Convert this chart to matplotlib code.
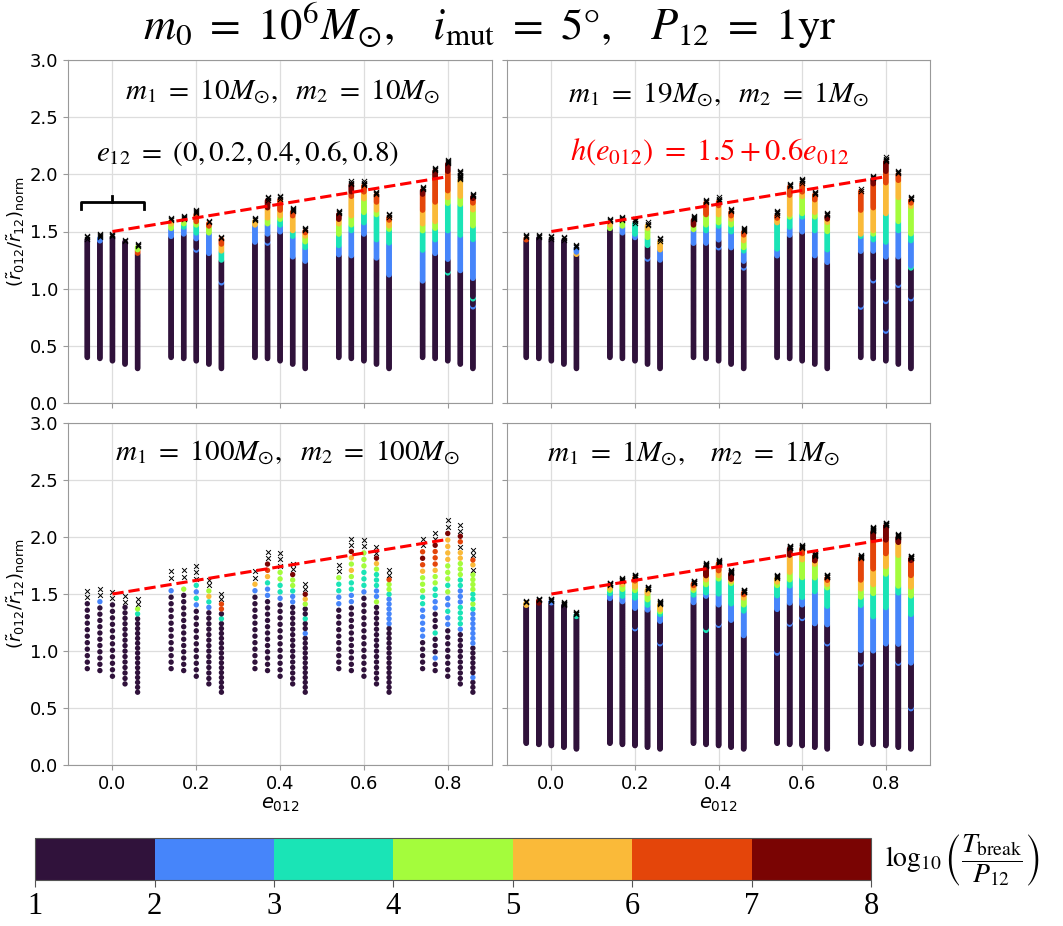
import numpy as np
import matplotlib.pyplot as plt
from matplotlib.colors import BoundaryNorm
from matplotlib.cm import ScalarMappable

E012 = [0.0, 0.2, 0.4, 0.6, 0.8]
E12_SHIFT = [-0.06, -0.03, 0.0, 0.03, 0.06]   # x offset for e12 = 0, 0.2, 0.4, 0.6, 0.8

# --- m1 = m2 = 100 Msun: coarse grid, read dot by dot ---
# (number of dark dots, codes above them); '1'..'7' = log10(T/P12) bin, 'x' = broken, '.' = none
M100_BOTTOM = [0.845, 0.828, 0.778, 0.711, 0.638]
M100_STEP = [0.057, 0.055, 0.057, 0.048, 0.043]
M100_COLS = [
    (11, "xx"), (11, "2xx"), (12, "xx"), (15, "xx"), (16, "34xx"),
    (12, "2.xx"), (13, "4.xx"), (11, "2323xxx"), (14, "2354xx"), (15, "3166xx"),
    (12, "25xx"), (12, "223567xx"), (12, "23344xxx"), (15, "223447xx"), (12, "211311457xx"),
    (10, "22334xx"), (11, "223345457xx"), (13, "2333444xx"), (15, "422333457xx"), (14, "2222223446xx"),
    (5, "22222334445676xx"), (2, "2111311122334456667xx"), (8, "223224344455557xx"),
    (10, "233332223344455x67xx"), (3, "2111111222222234334444x56xx"),
]

# --- fine grids: runs of (level, upper edge) from the bottom, level 0 = broken ('x') ---
M10_BOTTOM = [0.398, 0.389, 0.368, 0.339, 0.301]
M10_RUNS = [
    [(1, 1.43), (0, 1.46)],
    [(1, 1.41), (2, 1.44), (0, 1.48)],
    [(1, 1.45), (0, 1.48)],
    [(1, 1.41), (0, 1.43)],
    [(1, 1.31), (6, 1.34), (4, 1.37), (0, 1.40)],
    [(1, 1.45), (2, 1.52), (4, 1.56), (5, 1.59), (0, 1.62)],
    [(1, 1.47), (2, 1.53), (3, 1.56), (4, 1.60), (0, 1.64)],
    [(1, 1.33), (2, 1.35), (1, 1.43), (2, 1.48), (3, 1.55), (4, 1.58), (6, 1.65), (0, 1.69)],
    [(1, 1.30), (2, 1.48), (4, 1.54), (6, 1.57), (0, 1.59)],
    [(1, 1.05), (2, 1.07), (1, 1.25), (3, 1.33), (5, 1.39), (6, 1.44), (0, 1.46)],
    [(1, 1.40), (2, 1.55), (5, 1.59), (0, 1.62)],
    [(1, 1.39), (2, 1.41), (1, 1.47), (2, 1.56), (4, 1.61), (5, 1.70), (7, 1.77), (0, 1.80)],
    [(1, 1.49), (2, 1.55), (3, 1.60), (4, 1.63), (5, 1.68), (6, 1.78), (0, 1.81)],
    [(1, 1.27), (2, 1.45), (3, 1.50), (5, 1.63), (6, 1.67), (0, 1.71)],
    [(1, 1.24), (2, 1.36), (3, 1.41), (4, 1.46), (5, 1.49), (6, 1.51), (0, 1.54)],
    [(1, 1.29), (2, 1.37), (3, 1.47), (4, 1.56), (5, 1.60), (7, 1.65), (0, 1.68)],
    [(1, 1.28), (2, 1.50), (3, 1.55), (4, 1.63), (5, 1.80), (6, 1.84), (7, 1.91), (0, 1.94)],
    [(1, 1.47), (2, 1.57), (3, 1.66), (4, 1.78), (5, 1.84), (6, 1.90), (0, 1.94)],
    [(1, 1.26), (2, 1.42), (3, 1.64), (4, 1.68), (5, 1.75), (6, 1.82), (0, 1.85)],
    [(1, 1.12), (2, 1.40), (3, 1.52), (4, 1.55), (5, 1.60), (6, 1.63), (0, 1.66)],
    [(1, 1.06), (2, 1.33), (3, 1.50), (4, 1.56), (5, 1.68), (6, 1.82), (7, 1.86), (0, 1.89)],
    [(1, 1.30), (2, 1.42), (3, 1.52), (4, 1.58), (5, 1.75), (6, 1.97), (7, 2.03), (0, 2.06)],
    [(1, 1.13), (3, 1.15), (1, 1.25), (2, 1.50), (3, 1.74), (4, 1.79), (5, 1.85), (6, 2.02), (7, 2.09), (0, 2.13)],
    [(1, 1.15), (2, 1.46), (3, 1.73), (4, 1.80), (5, 1.95), (0, 2.03)],
    [(1, 0.84), (2, 0.86), (1, 0.91), (3, 0.93), (1, 1.09), (2, 1.43), (3, 1.55), (4, 1.69), (5, 1.75), (6, 1.79), (7, 1.81), (0, 1.84)],
]

M19_BOTTOM = [0.398, 0.389, 0.368, 0.339, 0.301]
M19_RUNS = [
    [(1, 1.42), (6, 1.44), (0, 1.47)],
    [(1, 1.44), (0, 1.47)],
    [(1, 1.43), (0, 1.46)],
    [(1, 1.42), (0, 1.45)],
    [(1, 1.30), (5, 1.32), (2, 1.36), (0, 1.39)],
    [(1, 1.52), (4, 1.55), (5, 1.58), (0, 1.61)],
    [(1, 1.48), (2, 1.54), (4, 1.59), (0, 1.63)],
    [(1, 1.44), (2, 1.47), (3, 1.57), (0, 1.61)],
    [(1, 1.25), (2, 1.27), (1, 1.37), (3, 1.44), (4, 1.52), (5, 1.55), (0, 1.58)],
    [(1, 1.25), (2, 1.34), (5, 1.42), (0, 1.45)],
    [(1, 1.39), (2, 1.51), (4, 1.55), (7, 1.60), (0, 1.64)],
    [(1, 1.39), (2, 1.50), (3, 1.55), (4, 1.64), (6, 1.75), (0, 1.78)],
    [(1, 1.35), (2, 1.37), (1, 1.42), (2, 1.54), (3, 1.57), (4, 1.64), (5, 1.72), (6, 1.76), (0, 1.80)],
    [(1, 1.35), (2, 1.49), (3, 1.55), (4, 1.60), (5, 1.63), (6, 1.67), (0, 1.70)],
    [(1, 1.18), (2, 1.20), (1, 1.24), (2, 1.33), (3, 1.36), (4, 1.42), (5, 1.47), (6, 1.50), (0, 1.535)],
    [(1, 1.28), (2, 1.34), (3, 1.57), (5, 1.61), (6, 1.64), (0, 1.68)],
    [(1, 1.46), (2, 1.53), (3, 1.62), (4, 1.64), (5, 1.81), (6, 1.89), (0, 1.92)],
    [(1, 1.49), (2, 1.62), (3, 1.65), (4, 1.80), (5, 1.84), (6, 1.92), (0, 1.96)],
    [(1, 1.28), (2, 1.50), (3, 1.62), (4, 1.66), (5, 1.77), (6, 1.82), (0, 1.85)],
    [(1, 1.23), (2, 1.34), (3, 1.50), (4, 1.58), (5, 1.61), (7, 1.64), (0, 1.67)],
    [(1, 0.83), (2, 0.85), (1, 1.32), (2, 1.45), (3, 1.47), (5, 1.68), (6, 1.85), (0, 1.87)],
    [(1, 1.06), (2, 1.08), (1, 1.32), (2, 1.42), (3, 1.47), (4, 1.50), (5, 1.70), (6, 1.91), (7, 1.96), (0, 1.99)],
    [(1, 0.62), (2, 0.64), (1, 0.88), (2, 0.90), (1, 1.27), (2, 1.40), (3, 1.65), (5, 1.92), (6, 2.02), (7, 2.11), (0, 2.15)],
    [(1, 1.02), (2, 1.04), (1, 1.27), (2, 1.50), (3, 1.58), (4, 1.79), (5, 1.94), (6, 2.00), (0, 2.03)],
    [(1, 0.91), (2, 0.93), (1, 1.18), (3, 1.20), (2, 1.42), (3, 1.48), (4, 1.72), (5, 1.75), (6, 1.78), (0, 1.81)],
]

M1_BOTTOM = [0.19, 0.18, 0.17, 0.155, 0.14]
M1_RUNS = [
    [(1, 1.40), (5, 1.42), (0, 1.44)],
    [(1, 1.42), (7, 1.44), (0, 1.46)],
    [(1, 1.42), (2, 1.44), (0, 1.46)],
    [(1, 1.40), (0, 1.43)],
    [(1, 1.30), (3, 1.32), (0, 1.34)],
    [(1, 1.46), (2, 1.50), (3, 1.53), (4, 1.55), (5, 1.58), (0, 1.60)],
    [(1, 1.43), (2, 1.48), (3, 1.54), (4, 1.58), (5, 1.61), (0, 1.64)],
    [(1, 1.19), (2, 1.21), (1, 1.37), (2, 1.46), (3, 1.53), (4, 1.56), (5, 1.61), (6, 1.64), (0, 1.67)],
    [(1, 1.36), (2, 1.40), (3, 1.45), (4, 1.50), (5, 1.54), (0, 1.57)],
    [(1, 1.06), (2, 1.08), (1, 1.26), (2, 1.32), (3, 1.34), (4, 1.36), (5, 1.41), (0, 1.44)],
    [(1, 1.42), (2, 1.49), (3, 1.53), (4, 1.55), (5, 1.57), (6, 1.59), (0, 1.62)],
    [(1, 1.18), (3, 1.20), (1, 1.48), (2, 1.51), (3, 1.58), (4, 1.62), (5, 1.66), (7, 1.74), (0, 1.77)],
    [(1, 1.22), (2, 1.24), (1, 1.40), (2, 1.50), (3, 1.63), (4, 1.66), (5, 1.70), (6, 1.77), (0, 1.80)],
    [(1, 1.27), (2, 1.41), (3, 1.59), (4, 1.61), (5, 1.63), (7, 1.68), (0, 1.71)],
    [(1, 1.13), (2, 1.35), (3, 1.40), (4, 1.46), (5, 1.49), (6, 1.51), (0, 1.54)],
    [(1, 0.98), (2, 1.00), (1, 1.36), (2, 1.48), (3, 1.57), (4, 1.60), (5, 1.64), (0, 1.67)],
    [(1, 1.23), (2, 1.25), (1, 1.42), (2, 1.57), (3, 1.62), (4, 1.69), (5, 1.84), (7, 1.90), (0, 1.93)],
    [(1, 1.28), (2, 1.30), (1, 1.40), (2, 1.47), (3, 1.64), (4, 1.80), (5, 1.85), (6, 1.90), (0, 1.93)],
    [(1, 1.24), (2, 1.52), (3, 1.64), (4, 1.76), (5, 1.79), (7, 1.83), (0, 1.86)],
    [(1, 1.06), (2, 1.08), (1, 1.23), (2, 1.39), (3, 1.55), (4, 1.58), (5, 1.62), (6, 1.64), (0, 1.67)],
    [(1, 0.88), (2, 0.90), (1, 1.00), (2, 1.40), (3, 1.47), (4, 1.54), (5, 1.62), (6, 1.81), (0, 1.84)],
    [(1, 1.00), (2, 1.30), (3, 1.50), (4, 1.58), (5, 1.72), (6, 1.98), (7, 2.05), (0, 2.09)],
    [(1, 1.06), (2, 1.38), (3, 1.67), (4, 1.74), (5, 1.85), (6, 1.97), (7, 2.10), (0, 2.13)],
    [(1, 0.89), (2, 0.91), (1, 1.06), (2, 1.51), (3, 1.57), (4, 1.84), (5, 1.95), (7, 2.00), (0, 2.03)],
    [(1, 0.49), (2, 0.51), (1, 0.89), (2, 1.32), (3, 1.48), (4, 1.56), (5, 1.66), (6, 1.79), (7, 1.81), (0, 1.84)],
]

FINE_STEP = 0.010
FINEST_STEP = 0.006

PANEL_TITLES = [r"$m_1\ =\ 10M_{\odot},\ \ m_2\ =\ 10M_{\odot}$",
                r"$m_1\ =\ 19M_{\odot},\ \ m_2\ =\ 1M_{\odot}$",
                r"$m_1\ =\ 100M_{\odot},\ \ m_2\ =\ 100M_{\odot}$",
                r"$m_1\ =\ 1M_{\odot},\ \ \ m_2\ =\ 1M_{\odot}$"]

cmap = plt.get_cmap("turbo", 7)
norm = BoundaryNorm(np.arange(1, 9), cmap.N)


def sparse_points(bottoms, steps, cols):
    xs, ys, levs = [], [], []
    for i, (n_dark, tail) in enumerate(cols):
        g, j = divmod(i, 5)
        codes = "1" * n_dark + tail
        for k, ch in enumerate(codes):
            if ch == ".":
                continue
            xs.append(E012[g] + E12_SHIFT[j])
            ys.append(bottoms[j] + k * steps[j])
            levs.append(0 if ch == "x" else int(ch))
    return np.array(xs), np.array(ys), np.array(levs)


def dense_points(bottoms, step, runs_all):
    xs, ys, levs = [], [], []
    for i, runs in enumerate(runs_all):
        g, j = divmod(i, 5)
        tops = np.array([r[1] for r in runs])
        lv = np.array([r[0] for r in runs])
        y = np.arange(bottoms[j], tops[-1] + 1e-9, step)
        idx = np.minimum(np.searchsorted(tops, y - 1e-9), len(runs) - 1)
        xs.append(np.full(len(y), E012[g] + E12_SHIFT[j]))
        ys.append(y)
        levs.append(lv[idx])
    return np.concatenate(xs), np.concatenate(ys), np.concatenate(levs)


fig = plt.figure(figsize=(10.63, 9.26), dpi=100)
boxes = [[0.064, 0.565, 0.399, 0.370], [0.477, 0.565, 0.398, 0.370],
         [0.064, 0.174, 0.399, 0.369], [0.477, 0.174, 0.398, 0.369]]
data = [dense_points(M10_BOTTOM, FINE_STEP, M10_RUNS),
        dense_points(M19_BOTTOM, FINE_STEP, M19_RUNS),
        sparse_points(M100_BOTTOM, M100_STEP, M100_COLS),
        dense_points(M1_BOTTOM, FINEST_STEP, M1_RUNS)]
dot_size = [16, 16, 15, 16]
x_size = [14, 14, 12, 14]
title_pos = [(0.507, 0.907), (0.499, 0.90), (0.518, 0.914), (0.44, 0.91)]

axes = []
for n in range(4):
    ax = fig.add_axes(boxes[n])
    axes.append(ax)
    x, y, lev = data[n]
    dot = lev > 0
    ax.scatter(x[dot], y[dot], c=lev[dot], cmap=cmap, norm=norm, s=dot_size[n],
               edgecolors="none", zorder=2)
    ax.scatter(x[~dot], y[~dot], marker="x", color="black", s=x_size[n],
               linewidths=0.7, zorder=3)
    e_line = np.array([E012[0], E012[-1]])
    ax.plot(e_line, 1.5 + 0.6 * e_line, "--", color="red", lw=2.2, zorder=4)

    ax.set_ylim(0, 3.0)
    ax.set_xlim(-0.106, 0.906)
    ax.set_yticks(np.arange(0, 3.01, 0.5))
    ax.set_xticks(E012)
    ax.grid(True, color="#dddddd", lw=0.9)
    ax.set_axisbelow(True)
    for sp in ax.spines.values():
        sp.set_color("#999999")
    ax.tick_params(colors="#999999", labelcolor="black", labelsize=13)
    if n % 2 == 1:
        ax.tick_params(labelleft=False)
    else:
        ax.set_ylabel(r"$(\tilde{r}_{012}/\tilde{r}_{12})_{\rm norm}$", fontsize=13, labelpad=2)
    if n < 2:
        ax.tick_params(labelbottom=False)
    else:
        ax.set_xlabel(r"$e_{012}$", fontsize=14, labelpad=2)
    tx, ty = title_pos[n]
    ax.text(tx, ty, PANEL_TITLES[n], transform=ax.transAxes, ha="center", va="center",
            fontsize=21, math_fontfamily="stix")

# e12 bracket and annotations
ax = axes[0]
bl = E012[0] + E12_SHIFT[0] - 0.015
br = E012[0] + E12_SHIFT[-1] + 0.015
ax.plot([bl, bl, br, br], [1.70, 1.755, 1.755, 1.70], color="black", lw=2.0,
        solid_joinstyle="round")
ax.plot([E012[0], E012[0]], [1.755, 1.81], color="black", lw=2.0)
ax.text(0.423, 0.729, r"$e_{12}\ =\ (0, 0.2, 0.4, 0.6, 0.8)$", transform=ax.transAxes,
        ha="center", va="center", fontsize=21, math_fontfamily="stix")
axes[1].text(0.48, 0.732, r"$h(e_{012})\ =\ 1.5+0.6e_{012}$", transform=axes[1].transAxes,
             ha="center", va="center", fontsize=22, color="red", math_fontfamily="stix")

fig.text(0.461, 0.972, r"$m_0\ =\ 10^6M_{\odot},\quad i_{\rm mut}\ =\ 5°,\quad P_{12}\ =\ 1{\rm yr}$",
         ha="center", va="center", fontsize=32, math_fontfamily="stix")

# colorbar
cax = fig.add_axes([0.033, 0.0497, 0.7865, 0.0454])
cb = fig.colorbar(ScalarMappable(norm=norm, cmap=cmap), cax=cax, orientation="horizontal",
                  ticks=np.arange(1, 9))
cb.outline.set_edgecolor("#555555")
cax.tick_params(labelsize=22, length=5, color="#555555")
for lab in cax.get_xticklabels():
    lab.set_family("Liberation Serif")
fig.text(0.833, 0.071, r"$\log_{10}\left(\dfrac{T_{\rm break}}{P_{12}}\right)$",
         ha="left", va="center", fontsize=20, math_fontfamily="stix")

fig.savefig("out.png", dpi=100)
